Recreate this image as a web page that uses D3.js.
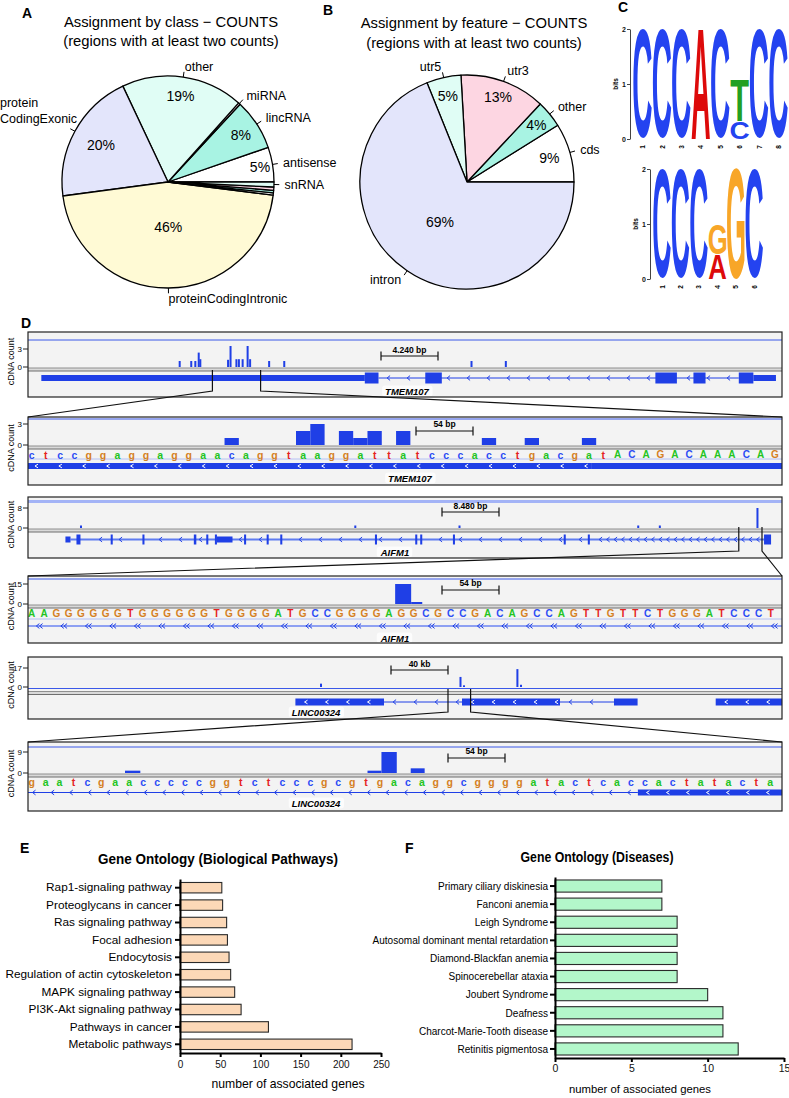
<!DOCTYPE html>
<html><head><meta charset="utf-8">
<script src="https://cdn.jsdelivr.net/npm/d3@7"></script>
<style>
html,body{margin:0;padding:0;background:#fff;}
svg{display:block;}
</style></head>
<body>
<svg id="fig" width="789" height="1098" xmlns="http://www.w3.org/2000/svg"></svg>
<script>
// ======================= DATA =======================
// Panel A – assignment by class (percent of regions), counter-clockwise from 3 o'clock
const classNames = ["antisense","lincRNA","miRNA","other","protein\nCodingExonic","proteinCodingIntronic","pseudogene","rRNA","snoRNA","snRNA"];
const classPercents = [5.3, 7.8, 0.3, 18.6, 20.1, 45.9, 0.33, 0.4, 0.5, 0.75];
const classLabelShown = [1,1,1,1,1,1,0,0,0,1];
// Panel B – assignment by feature
const featureNames = ["cds","other","utr3","utr5","intron"];
const featurePercents = [8.9, 4.1, 12.9, 5.2, 68.9];
const featureLabelShown = [1,1,1,1,1];

// Panel C – sequence logos (letters stacked bottom -> top, bits)
const logo1Letters = [["C"],["C"],["C"],["A"],["C"],["C","T"],["C"],["C"]];
const logo1Bits    = [[2],[2],[2],[2],[2],[0.32,0.76],[2],[2]];
const logo2Letters = [["C"],["C"],["C"],["A","G"],["G"],["C"]];
const logo2Bits    = [[2],[2],[2],[0.45,0.55],[2],[2]];

// Panel D – genome browser tracks
// TMEM107 overview (bp within 4,240 bp window): [position, cDNA count]
const tmemOverviewCounts = [[853,1],[918,1],[941,1],[960,2.4],[969,1.3],[1125,1.2],[1139,3.5],[1172,1.3],[1186,1.3],[1207,1.3],[1235,3.5],[1249,1.3],[1356,1],[1441,1],[2494,1],[2687,1]];
const tmemOverviewExons = [[75,1894,"utr"],[1894,1971,"cds"],[2234,2327,"cds"],[3528,3649,"cds"],[3742,3810,"cds"],[3997,4079,"cds"],[4079,4206,"utr"]];
const tmemOverviewIntrons = [[1971,3997]];
const tmemZoomWindow = [1037,1308];
// TMEM107 zoom (base index): [start, end, count]
const tmemZoomCounts = [[14,15,1],[19,20,2],[20,21,3],[22,23,2],[23,24,1],[24,25,2],[26,27,2],[32,33,1],[35,36,1],[39,40,1]];
const tmemZoomSeq = "ctccggaggaggaacaggtaaggattatcccacctgacgatACAGACAAACAG";
const tmemZoomExons = [[0,39.7,"blockArrows"],[39.7,54,"block"]];
const tmemZoomIntrons = [];

// AIFM1 overview (bp within 8,480 bp window)
const aifmOverviewCounts = [[596,1],[3681,1],[4853,1],[6863,1],[7106,1],[8204,8]];
const aifmOverviewExons = [[421,478,"utr"],[545,590,"cds"],[930,953,"cds"],[1287,1310,"cds"],[1865,1893,"cds"],[2005,2028,"cds"],[2102,2125,"cds"],[2125,2300,"utr"],[2430,2453,"cds"],[2684,2707,"cds"],[2837,2860,"cds"],[3902,3925,"cds"],[4355,4378,"cds"],[4411,4434,"cds"],[4779,4802,"cds"],[6025,6048,"cds"],[6296,6319,"cds"],[8278,8357,"cds"]];
const aifmOverviewIntrons = [[478,8278]];
const aifmZoomWindow = [7994,8255];
const aifmZoomCounts = [[30.0,31.3,15],[31.3,32.2,1.5]];
const aifmZoomSeq = "AAGGGGGGTGGGGGGTGGGGATGCCGGGGAGGCGCCGACAGCCAGTTGTTCTGGGATCCCT";
const aifmZoomExons = [];
const aifmZoomIntrons = [[0,62]];

// LINC00324 overview (bp within 40 kb window)
const lincOverviewCounts = [[15544,3],[22944,9],[23130,1.5],[25963,16],[26154,2]];
const lincOverviewExons = [[14186,18886,"blockArrows"],[23024,28223,"blockArrows"],[31087,32339,"block"],[36483,40000,"blockArrows"]];
const lincOverviewIntrons = [[18886,23024],[28223,31087]];
const lincZoomWindow = [22281,23480];
const lincZoomCounts = [[7.2,8.3,1],[24.6,25.6,1],[25.6,26.7,9],[27.7,28.7,2]];
const lincZoomSeq = "gaatcgaacccccggtctcccgcgtgacaggcggggatactcaccactatacta";
const lincZoomExons = [[44.0,55,"blockArrows"]];
const lincZoomIntrons = [[0,44.0]];

// Panel E – biological pathways
const pathwayNames = ["Rap1-signaling pathway","Proteoglycans in cancer","Ras signaling pathway","Focal adhesion","Endocytosis","Regulation of actin cytoskeleton","MAPK signaling pathway","PI3K-Akt signaling pathway","Pathways in cancer","Metabolic pathways"];
const pathwayGenes = [52,53,58,59,61,63,68,76,110,214];
const pathwayTicks = [0,50,100,150,200,250];
// Panel F – diseases
const diseaseNames = ["Primary ciliary diskinesia","Fanconi anemia","Leigh Syndrome","Autosomal dominant mental retardation","Diamond-Blackfan anemia","Spinocerebellar ataxia","Joubert Syndrome","Deafness","Charcot-Marie-Tooth disease","Retinitis pigmentosa"];
const diseaseGenes = [7,7,8,8,8,8,10,11,11,12];
const diseaseTicks = [0,5,10,15];

// ======================= STYLE / LAYOUT =======================
const FONT = '"Liberation Sans", Arial, Helvetica, sans-serif';
const pieColors = ["#ffffff","#a8f3e3","#fdd6e2","#e0fdf5","#e3e5fb","#fffad5"];
const GENE_BLUE = "#1f3fe6";
const BASE_COLORS = {a:"#22c422", c:"#2b4cf5", g:"#d5801f", t:"#e52222"};
const LOGO_COLORS = {A:"#dd0a0a", C:"#2443f0", G:"#f8a628", T:"#22a022"};
const BOX_L = 28, BOX_R = 782;

const svg = d3.select("#fig").style("font-family", FONT);
svg.append("rect").attr("width",789).attr("height",1098).attr("fill","#fff");
const defs = svg.append("defs");

// panel letters
const panelLetterPos = {A:[22,18], B:[323,15], C:[618,12], D:[21,328], E:[20,853], F:[405,853]};
Object.entries(panelLetterPos).forEach(([k,p]) => {
  svg.append("text").attr("x",p[0]).attr("y",p[1]).attr("font-size",14).attr("font-weight","bold").text(k);
});

// ======================= PIES =======================
function drawPie(names, values, shown, L) {
  const root = svg.append("g");
  L.title.forEach((t,i) => {
    root.append("text").attr("x", L.titleX).attr("y", L.titleY[i]).attr("text-anchor","middle")
      .attr("font-size", 14.8).text(t);
  });
  const g = root.append("g").attr("transform", `translate(${L.cx},${L.cy})`);
  const pie = d3.pie().sort(null).value(d => d).startAngle(Math.PI/2).endAngle(Math.PI/2 - 2*Math.PI);
  const arcs = pie(values);
  const arc = d3.arc().innerRadius(0).outerRadius(L.r);
  g.selectAll("path.slice").data(arcs).join("path").attr("class","slice")
    .attr("d", arc).attr("fill", (d,i) => pieColors[i % pieColors.length])
    .attr("stroke","#000").attr("stroke-width",1.3).attr("stroke-linejoin","round");
  arcs.forEach((a,i) => {
    const m = (a.startAngle + a.endAngle)/2;
    const sx = Math.sin(m), sy = -Math.cos(m);
    if (values[i] >= 4) {
      const pr = L.pctR[i]*L.r;
      g.append("text").attr("x", sx*pr).attr("y", sy*pr).attr("text-anchor","middle")
        .attr("dominant-baseline","central").attr("font-size",14).text(Math.round(values[i]) + "%");
    }
    if (shown[i]) {
      g.append("line").attr("x1",sx*L.r).attr("y1",sy*L.r).attr("x2",sx*L.r*1.05).attr("y2",sy*L.r*1.05)
        .attr("stroke","#000").attr("stroke-width",1);
      const nd = (L.labelNudge && L.labelNudge[i]) || [0,0];
      const lx = sx*L.r*1.1 + nd[0], ly = sy*L.r*1.1 + nd[1];
      const lines = names[i].split("\n");
      if (lines.length === 1) {
        g.append("text").attr("x",lx).attr("y",ly).attr("text-anchor", sx < 0 ? "end" : "start")
          .attr("dominant-baseline","central").attr("font-size",12.5).text(lines[0]);
      } else {
        const ts = lines.map((ln,k) => g.append("text").attr("y", ly + (k - (lines.length-1)/2)*16)
          .attr("dominant-baseline","central").attr("font-size",12.5).text(ln));
        const wmax = d3.max(ts, t => t.node().getComputedTextLength());
        const left = sx < 0 ? lx - wmax : lx;
        ts.forEach(t => t.attr("x", left));
      }
    }
  });
}
drawPie(classNames, classPercents, classLabelShown, {
  cx:168, cy:182, r:106, titleX:171, titleY:[27,45.5],
  title:["Assignment by class \u2212 COUNTS","(regions with at least two counts)"],
  pctR:[0.88,0.82,0.82,0.82,0.72,0.42,0.8,0.8,0.8,0.8],
  labelNudge:{4:[11.5,-15]}
});
drawPie(featureNames, featurePercents, featureLabelShown, {
  cx:467, cy:182, r:107, titleX:474, titleY:[28,47.5],
  title:["Assignment by feature \u2212 COUNTS","(regions with at least two counts)"],
  pctR:[0.8,0.84,0.85,0.82,0.45],
  labelNudge:{}
});

// ======================= LOGOS =======================
const mctx = document.createElement("canvas").getContext("2d");
mctx.font = 'bold 100px "Liberation Sans"';
function drawGlyph(g, ch, x0, y0, w, h) {
  if (h <= 0.2) return;
  const m = mctx.measureText(ch);
  const L = m.actualBoundingBoxLeft, R = m.actualBoundingBoxRight, A = m.actualBoundingBoxAscent, D = m.actualBoundingBoxDescent;
  const sx = w/(L+R), sy = h/(A+D);
  g.append("text").attr("font-family",'"Liberation Sans"').attr("font-weight","bold").attr("font-size",100)
    .attr("transform", `translate(${x0},${y0}) scale(${sx},${sy}) translate(${L},${A})`)
    .attr("fill", LOGO_COLORS[ch]).text(ch);
}
function drawLogo(letters, bits, L) {
  const g = svg.append("g");
  const x = d3.scaleBand().domain(d3.range(letters.length)).range([L.x0, L.x0 + L.colW*letters.length]).paddingInner(0.05).paddingOuter(0.02);
  const y = d3.scaleLinear().domain([0,2]).range([L.yBottom, L.yTop]);
  letters.forEach((col,i) => {
    let acc = 0;
    col.forEach((ch,k) => {
      const b = bits[i][k];
      drawGlyph(g, ch, x(i), y(acc+b), x.bandwidth(), y(acc) - y(acc+b));
      acc += b;
    });
  });
  const ax = g.append("g").attr("transform",`translate(${L.axisX},0)`)
    .call(d3.axisLeft(y).tickValues([0,1,2]).tickFormat(d3.format("d")).tickSize(3).tickSizeOuter(0).tickPadding(1));
  ax.attr("font-family",null).attr("font-size",null);
  ax.select(".domain").attr("stroke","#444").attr("stroke-width",1);
  ax.selectAll(".tick line").attr("stroke","#444");
  ax.selectAll(".tick text").attr("font-size",7).attr("font-weight","bold").attr("fill","#111");
  g.append("text").attr("transform",`translate(${L.axisX-12},${(L.yTop+L.yBottom)/2}) rotate(-90)`)
    .attr("text-anchor","middle").attr("font-size",6.5).attr("font-weight","bold").text("bits");
  letters.forEach((c,i) => {
    g.append("text").attr("transform",`translate(${x(i)+x.bandwidth()/2},${L.yBottom+6}) rotate(-90)`)
      .attr("text-anchor","end").attr("dominant-baseline","central").attr("font-size",6.5).attr("font-weight","bold").text(i+1);
  });
}
drawLogo(logo1Letters, logo1Bits, {x0:633, colW:19.4, yTop:29, yBottom:139, axisX:630});
drawLogo(logo2Letters, logo2Bits, {x0:653, colW:18.4, yTop:169, yBottom:279, axisX:650});

// ======================= GENOME TRACKS =======================
function chevron(g, px, py, color, h) {
  g.append("path").attr("d", `M${px+1.6},${py-h} L${px-1.4},${py} L${px+1.6},${py+h}`)
    .attr("fill","none").attr("stroke",color).attr("stroke-width",1);
}
function drawTrack(T) {
  const x = d3.scaleLinear().domain(T.domain).range([BOX_L, BOX_R]);
  const y = d3.scaleLinear().domain([0, T.maxVal]).range([T.baseY, T.maxY]);
  const id = "clip_" + T.id;
  defs.append("clipPath").attr("id", id).append("rect").attr("x",BOX_L).attr("y",T.top)
    .attr("width",BOX_R-BOX_L).attr("height",T.bottom-T.top);
  const g = svg.append("g");
  g.append("rect").attr("x",BOX_L).attr("y",T.top).attr("width",BOX_R-BOX_L).attr("height",T.bottom-T.top).attr("fill","#f3f3f3");
  const c = g.append("g").attr("clip-path",`url(#${id})`);
  if (T.topLine) c.append("line").attr("x1",BOX_L).attr("x2",BOX_R).attr("y1",T.topLine.y).attr("y2",T.topLine.y)
    .attr("stroke",T.topLine.color).attr("stroke-width",T.topLine.w);
  // separator
  c.append("rect").attr("x",BOX_L).attr("y",T.sepY).attr("width",BOX_R-BOX_L).attr("height",3).attr("fill","#d9d9d9");
  [T.sepY, T.sepY+3].forEach((yy,k) => c.append("line").attr("x1",BOX_L).attr("x2",BOX_R).attr("y1",yy).attr("y2",yy)
    .attr("stroke", k ? "#6f6f6f" : "#8f8f8f").attr("stroke-width",1));
  // count bars
  c.selectAll("rect.cnt").data(T.counts).join("rect").attr("class","cnt")
    .attr("x", d => d.length === 3 ? x(d[0]) : x(d[0]) - 1)
    .attr("width", d => d.length === 3 ? x(d[1]) - x(d[0]) : 2)
    .attr("y", d => y(d[d.length-1]))
    .attr("height", d => T.baseY - y(d[d.length-1]))
    .attr("fill", GENE_BLUE);
  // sequence
  if (T.seq) {
    if (T.seqLineY) c.append("line").attr("x1",BOX_L).attr("x2",BOX_R).attr("y1",T.seqLineY).attr("y2",T.seqLineY)
      .attr("stroke","#b4c0f4").attr("stroke-width",1);
    c.selectAll("text.seq").data(T.seq.split("")).join("text").attr("class","seq")
      .attr("x",(d,i) => x(i+0.5)).attr("y",T.seqY).attr("text-anchor","middle").attr("dominant-baseline","central")
      .attr("font-size", d => d === d.toUpperCase() ? 10 : 10.5).attr("font-weight","bold")
      .attr("fill", d => BASE_COLORS[d.toLowerCase()]).text(d => d);
  }
  // introns
  const inExon = px => T.exons.some(e => px >= x(e[0]) - 2 && px <= x(e[1]) + 2);
  T.introns.forEach(seg => {
    const x0 = x(seg[0]), x1 = x(seg[1]);
    c.append("line").attr("x1",x0).attr("x2",x1).attr("y1",T.geneY).attr("y2",T.geneY)
      .attr("stroke",T.intronColor || GENE_BLUE).attr("stroke-width",T.intronW || 1);
    let px = x0 + T.chevStep/2;
    while (px < x1 - 2) {
      if (!inExon(px)) {
        chevron(c, px, T.geneY, GENE_BLUE, 2.4);
        if (T.doubleChev) chevron(c, px+3.2, T.geneY, GENE_BLUE, 2.4);
      }
      px += (T.denseFrom !== undefined && px > x(T.denseFrom)) ? T.denseStep : T.chevStep;
    }
  });
  // exons / blocks
  T.exons.forEach(e => {
    const h = T.exonH[e[2]];
    const x0 = x(e[0]), x1 = Math.max(x(e[1]), x0 + 2);
    c.append("rect").attr("x",x0).attr("y",T.geneY - h/2).attr("width",x1-x0).attr("height",h).attr("fill",GENE_BLUE);
    if (e[2] === "blockArrows") {
      for (let px = x0 + T.arrowStep/2; px < x1 - 3; px += T.arrowStep) chevron(c, px, T.geneY, "#ffffff", 1.8);
    }
  });
  // gene label
  const lab = c.append("text").attr("x",T.labelX).attr("y",T.labelY).attr("text-anchor","middle")
    .attr("dominant-baseline","central").attr("font-size",9.5).attr("font-weight","bold").attr("font-style","italic").text(T.label);
  const bb = lab.node().getBBox();
  c.insert("rect", () => lab.node()).attr("x",bb.x-3).attr("y",bb.y).attr("width",bb.width+6).attr("height",bb.height)
    .attr("rx",3).attr("fill","#ffffff").attr("opacity",0.75);
  // scale bar
  const sb = T.scale;
  c.append("path").attr("d",`M${sb.x},${sb.y-4.5} V${sb.y+4.5} M${sb.x},${sb.y} H${sb.x+57} M${sb.x+57},${sb.y-4.5} V${sb.y+4.5}`)
    .attr("fill","none").attr("stroke","#111").attr("stroke-width",1.2);
  c.append("text").attr("x",sb.x+28.5).attr("y",sb.ty).attr("text-anchor","middle").attr("font-size",8.5)
    .attr("font-weight","bold").text(sb.text);
  // frame
  g.append("rect").attr("x",BOX_L).attr("y",T.top).attr("width",BOX_R-BOX_L).attr("height",T.bottom-T.top)
    .attr("fill","none").attr("stroke","#222").attr("stroke-width",1.2);
  // y ticks
  [T.maxVal, 0].forEach(v => {
    g.append("line").attr("x1",BOX_L-5).attr("x2",BOX_L).attr("y1",y(v)).attr("y2",y(v)).attr("stroke","#222").attr("stroke-width",1);
    g.append("text").attr("x",BOX_L-6).attr("y",y(v)).attr("text-anchor","end").attr("dominant-baseline","central")
      .attr("font-size",8).text(v);
  });
  g.append("text").attr("transform",`translate(11,${(T.top+T.bottom)/2 - 3}) rotate(-90)`).attr("text-anchor","middle")
    .attr("dominant-baseline","central").attr("font-size",9).text("cDNA count");
  return x;
}
function drawConnector(x, win, yTop, yBot, nextTop) {
  const g = svg.append("g").attr("fill","none").attr("stroke","#111").attr("stroke-width",1.2);
  g.append("path").attr("d",`M${x(win[0])},${yTop} V${yBot} L${BOX_L},${nextTop}`);
  g.append("path").attr("d",`M${x(win[1])},${yTop} V${yBot} L${BOX_R},${nextTop}`);
}

const x1 = drawTrack({id:"t1", top:332, bottom:397, domain:[0,4240], topLine:{y:340,color:"#3a58e8",w:1},
  baseY:367, maxVal:3, maxY:349, sepY:368, counts:tmemOverviewCounts,
  geneY:378, exons:tmemOverviewExons, introns:tmemOverviewIntrons, exonH:{cds:11,utr:6}, chevStep:20,
  label:"TMEM107", labelX:407, labelY:391, scale:{x:381, y:356, ty:353, text:"4.240 bp"}});
drawTrack({id:"t2", top:417, bottom:485, domain:[0.25,53], topLine:{y:419,color:"#3a58e8",w:1},
  baseY:445, maxVal:3, maxY:424, sepY:446, counts:tmemZoomCounts, seq:tmemZoomSeq, seqY:454.5, seqLineY:459,
  geneY:466, exons:tmemZoomExons, introns:tmemZoomIntrons, exonH:{block:6,blockArrows:6}, arrowStep:23.9, chevStep:20,
  label:"TMEM107", labelX:410, labelY:478, scale:{x:416, y:431, ty:427, text:"54 bp"}});
const x3 = drawTrack({id:"t3", top:497, bottom:558, domain:[0,8480], topLine:{y:501.5,color:"#a3b3f6",w:3},
  baseY:528, maxVal:8, maxY:508, sepY:529, counts:aifmOverviewCounts,
  geneY:539.5, exons:aifmOverviewExons, introns:aifmOverviewIntrons, exonH:{cds:10,utr:6}, chevStep:20, denseFrom:6321, denseStep:7.5,
  intronColor:"#5f7cf0", intronW:2,
  label:"AIFM1", labelX:395, labelY:552, scale:{x:442, y:512, ty:509, text:"8.480 bp"}});
drawTrack({id:"t4", top:576, bottom:643, domain:[0.2,61.4], topLine:{y:579,color:"#3a58e8",w:1},
  baseY:604, maxVal:15, maxY:584, sepY:605, counts:aifmZoomCounts, seq:aifmZoomSeq, seqY:613.5, seqLineY:619,
  geneY:626, exons:aifmZoomExons, introns:aifmZoomIntrons, exonH:{}, chevStep:24.5, doubleChev:true,
  intronColor:"#8ea0f2", intronW:2,
  label:"AIFM1", labelX:395, labelY:638, scale:{x:442, y:590, ty:586, text:"54 bp"}});
const x5 = drawTrack({id:"t5", top:657, bottom:719, domain:[0,40000], topLine:{y:688.5,color:"#3a58e8",w:1.2},
  baseY:687, maxVal:17, maxY:668, sepY:691.5, counts:lincOverviewCounts,
  geneY:702, exons:lincOverviewExons, introns:lincOverviewIntrons, exonH:{block:7,blockArrows:7}, arrowStep:21, chevStep:21,
  label:"LINC00324", labelX:316, labelY:712, scale:{x:391, y:670, ty:667, text:"40 kb"}});
drawTrack({id:"t6", top:742, bottom:811, domain:[0.24,54.34], topLine:{y:747,color:"#3a58e8",w:1},
  baseY:773, maxVal:9, maxY:752, sepY:774, counts:lincZoomCounts, seq:lincZoomSeq, seqY:782, seqLineY:null,
  geneY:792.5, exons:lincZoomExons, introns:lincZoomIntrons, exonH:{blockArrows:6}, arrowStep:20, chevStep:18.6,
  label:"LINC00324", labelX:316, labelY:803, scale:{x:448, y:758, ty:754, text:"54 bp"}});

drawConnector(x1, tmemZoomWindow, 370, 391, 417);
drawConnector(x3, aifmZoomWindow, 527, 551, 576);
drawConnector(x5, lincZoomWindow, 689, 712, 742);

// ======================= BAR CHARTS =======================
function drawBars(names, values, ticks, L) {
  const g = svg.append("g");
  const x = d3.scaleLinear().domain([0, L.max]).range([L.x0, L.x1]);
  const y = d3.scaleBand().domain(names).range([L.y0, L.y1]).paddingInner(L.pad).paddingOuter(L.pad/2);
  g.selectAll("rect.bar").data(names).join("rect").attr("class","bar")
    .attr("x", x(0)).attr("y", d => y(d)).attr("width", (d,i) => x(values[i]) - x(0)).attr("height", y.bandwidth())
    .attr("fill", L.fill).attr("stroke","#2a2a2a").attr("stroke-width",1.1);
  const xa = g.append("g").attr("transform",`translate(0,${L.y1})`)
    .call(d3.axisBottom(x).tickValues(ticks).tickSize(4).tickSizeOuter(0).tickPadding(L.tickPad));
  const ya = g.append("g").attr("transform",`translate(${L.x0},0)`)
    .call(d3.axisLeft(y).tickSize(5).tickSizeOuter(0).tickPadding(L.labelPad));
  [xa, ya].forEach(a => {
    a.attr("font-family",null).attr("font-size",null);
    a.select(".domain").attr("stroke","#000").attr("stroke-width",2);
    a.selectAll(".tick line").attr("stroke","#000").attr("stroke-width",2);
  });
  xa.selectAll("text").attr("font-size",L.tickFont).attr("fill","#111");
  ya.selectAll("text").attr("font-size",L.labelFont).attr("fill","#000");
  if (L.labelScale !== 1) {
    ya.selectAll(".tick text").each(function(){
      const t = d3.select(this);
      t.attr("x", (+t.attr("x"))/L.labelScale).attr("transform",`scale(${L.labelScale},1)`);
    });
  }
  g.append("text").attr("x",L.titleX).attr("y",L.titleY).attr("text-anchor","middle").attr("font-size",14.5)
    .attr("font-weight","bold").attr("textLength",L.titleW).attr("lengthAdjust","spacingAndGlyphs").text(L.title);
  g.append("text").attr("x",L.axX).attr("y",L.axY).attr("text-anchor","middle").attr("font-size",L.axFont).text("number of associated genes");
}
drawBars(pathwayNames, pathwayGenes, pathwayTicks, {
  max:250, x0:180, x1:381, y0:879, y1:1053, pad:0.4, fill:"#fcd8b7", tickPad:4, labelPad:3,
  tickFont:10, labelFont:11.8, labelScale:1,
  title:"Gene Ontology (Biological Pathways)", titleX:218, titleY:863.5, titleW:240,
  axX:288, axY:1088, axFont:12.2});
drawBars(diseaseNames, diseaseGenes, diseaseTicks, {
  max:15, x0:555, x1:784, y0:877, y1:1058, pad:0.33, fill:"#b3f7ca", tickPad:3, labelPad:2,
  tickFont:10.5, labelFont:11.7, labelScale:0.86,
  title:"Gene Ontology (Diseases)", titleX:597, titleY:862, titleW:153,
  axX:640, axY:1093, axFont:11.3});
</script>
</body></html>
